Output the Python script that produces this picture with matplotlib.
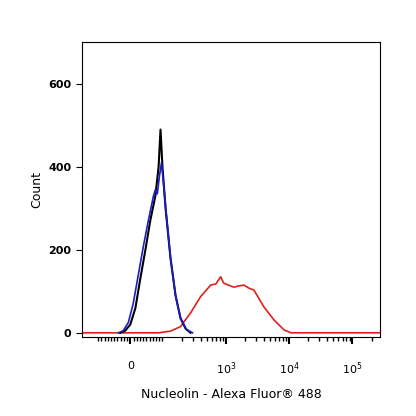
import matplotlib
matplotlib.use("Agg")
import matplotlib.pyplot as plt
import numpy as np

black_x = [-31, -16, 0, 16, 31, 47, 62, 78, 88, 94, 100, 112, 134, 161, 193, 232, 278]
black_y = [0, 5, 20, 60, 130, 200, 270, 330, 400, 490, 400, 300, 180, 90, 35, 10, 0]
blue_x = [-37, -22, -6, 9, 25, 41, 56, 72, 78, 84, 91, 97, 104, 116, 134, 161, 193, 240, 299]
blue_y = [0, 5, 25, 70, 140, 210, 270, 330, 345, 335, 380, 410, 360, 280, 180, 90, 35, 8, 0]
red_x = [-180, 88, 134, 193, 278, 400, 577, 700, 830, 925, 1100, 1340, 1600, 1930, 2300, 2780, 4010, 5770, 8300, 10700, 270000]
red_y = [0, 0, 4, 15, 48, 87, 115, 118, 135, 120, 115, 110, 113, 115, 108, 103, 62, 31, 7, 0, 0]

fig = plt.figure(figsize=(4.16, 4.16), dpi=100)
ax = fig.add_axes([0.197, 0.19, 0.716, 0.709])
ax.set_xscale('symlog', linthresh=100, linscale=0.457)
ax.plot(red_x, red_y, color='#e0201c', lw=1.2)
ax.plot(black_x, black_y, color='black', lw=1.5)
ax.plot(blue_x, blue_y, color='#1c1cc8', lw=1.2)
ax.set_xlim(-180, 2.7e5)
ax.set_ylim(-10, 701)

ax.set_xticks([0, 1e3, 1e4, 1e5])
ax.set_xticklabels(['0', r'$10^3$', r'$10^4$', r'$10^5$'], fontsize=8)
minor = [-100] + list(np.arange(10, 100, 10)) + [-v for v in range(10, 100, 10)]
for d in [100, 1000, 10000, 100000]:
    minor += [k * d for k in range(1, 10) if k * d < 2.7e5]
minor = [m for m in minor if m not in (1e3, 1e4, 1e5)]
ax.set_xticks(minor, minor=True)
ax.tick_params(axis='x', which='major', length=5, width=1.5, pad=12, direction='out')
ax.tick_params(axis='x', which='minor', length=3, width=1)
ax.set_yticks([0, 200, 400, 600])
ax.tick_params(axis='y', labelsize=8, length=4)
for l in ax.get_yticklabels():
    l.set_fontweight('bold')
ax.set_ylabel('Count', fontsize=9)
ax.set_xlabel('Nucleolin - Alexa Fluor® 488', fontsize=9, labelpad=8)
fig.savefig('out.png', dpi=100)
